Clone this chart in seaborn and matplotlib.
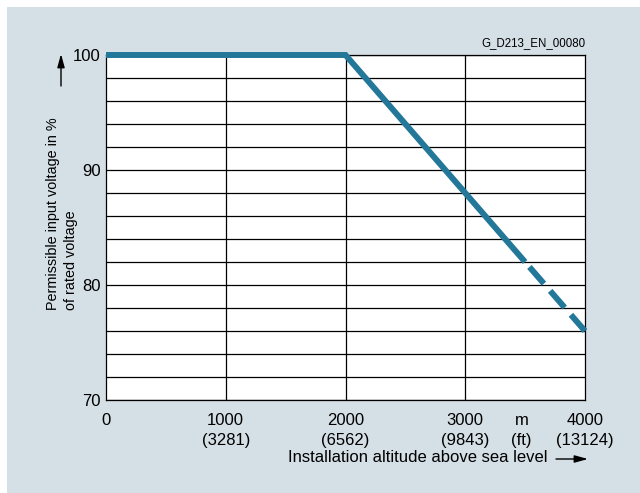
import matplotlib
matplotlib.use("Agg")
import matplotlib.pyplot as plt
import seaborn as sns
import pandas as pd
from matplotlib.patches import Rectangle, FancyArrowPatch

sns.set_theme(style="white")
plt.rcParams['font.family'] = ['Liberation Sans', 'DejaVu Sans']

# Data
alt_solid = [0, 2000, 3500]
volt_solid = [100, 100, 82]
alt_dashed = [3500, 4000]
volt_dashed = [82, 76]
x_ticks = [0, 1000, 2000, 3000, 4000]
x_tick_labels = ["0", "1000\n(3281)", "2000\n(6562)", "3000\n(9843)", "4000\n(13124)"]
y_ticks = [70, 80, 90, 100]
y_grid = list(range(70, 101, 2))

W, H = 640, 493
fig = plt.figure(figsize=(W / 100, H / 100), dpi=100, facecolor="white")
panel_color = "#d5dfe6"
fig.patches.append(Rectangle((7 / W, 0), 1 - 7 / W, 1 - 7 / H, transform=fig.transFigure,
                             facecolor=panel_color, edgecolor="none", zorder=-10))

left, right, top, bottom = 106, 585, 55, 400
ax = fig.add_axes([left / W, 1 - bottom / H, (right - left) / W, (bottom - top) / H])
ax.set_facecolor("white")

line_color = "#23789a"
df_s = pd.DataFrame({"alt": alt_solid, "volt": volt_solid})
df_d = pd.DataFrame({"alt": alt_dashed, "volt": volt_dashed})
sns.lineplot(data=df_s, x="alt", y="volt", ax=ax, color=line_color, lw=4.3,
             solid_capstyle="butt", solid_joinstyle="miter", zorder=5, clip_on=False)
sns.lineplot(data=df_d, x="alt", y="volt", ax=ax, color=line_color, lw=4.3,
             zorder=5, clip_on=False)
ax.lines[-1].set_linestyle((4.2, (3.7, 1.6)))
ax.lines[-1].set_dash_capstyle("butt")

ax.set_xlim(0, 4000)
ax.set_ylim(70, 100)
for yv in y_grid:
    ax.axhline(yv, color="black", lw=0.9, zorder=1)
for xv in [1000, 2000, 3000]:
    ax.axvline(xv, color="black", lw=0.9, zorder=1)
for s in ax.spines.values():
    s.set_visible(True)
    s.set_color("black")
    s.set_linewidth(0.9)

fs = 12
ax.set_xticks(x_ticks)
ax.set_xticklabels(x_tick_labels, fontsize=fs, linespacing=1.4)
ax.set_yticks(y_ticks)
ax.set_yticklabels([str(v) for v in y_ticks], fontsize=fs)
ax.tick_params(axis="x", length=0, pad=9.3, colors="black")
ax.tick_params(axis="y", length=0, pad=4, colors="black")
ax.set_xlabel("")
ax.set_ylabel("")

# unit label
ax.text(3470, -0.0375, "m\n(ft)", transform=ax.get_xaxis_transform(), ha="center", va="top",
        fontsize=fs, linespacing=1.4, color="black")

# x axis title with arrow
fig.text(548 / W, 1 - 457 / H, "Installation altitude above sea level", ha="right", va="center",
         fontsize=fs, color="black")
fig.add_artist(FancyArrowPatch((556 / W, 1 - 459 / H), (588 / W, 1 - 459 / H),
               transform=fig.transFigure, arrowstyle="-|>,head_length=8,head_width=2.2",
               color="black", lw=1, shrinkA=0, shrinkB=0))

# y axis title with arrow
fig.text(62 / W, 1 - 310 / H, "Permissible input voltage in %\nof rated voltage", rotation=90,
         ha="center", va="bottom", multialignment="left", fontsize=10.4, linespacing=1.34,
         color="black")
fig.add_artist(FancyArrowPatch((61 / W, 1 - 86 / H), (61 / W, 1 - 54 / H),
               transform=fig.transFigure, arrowstyle="-|>,head_length=8,head_width=2.2",
               color="black", lw=1, shrinkA=0, shrinkB=0))

# code
fig.text(585 / W, 1 - 43 / H, "G_D213_EN_00080", ha="right", va="center", fontsize=8.3,
         color="black")

fig.savefig("out.png", dpi=100, facecolor="white")
